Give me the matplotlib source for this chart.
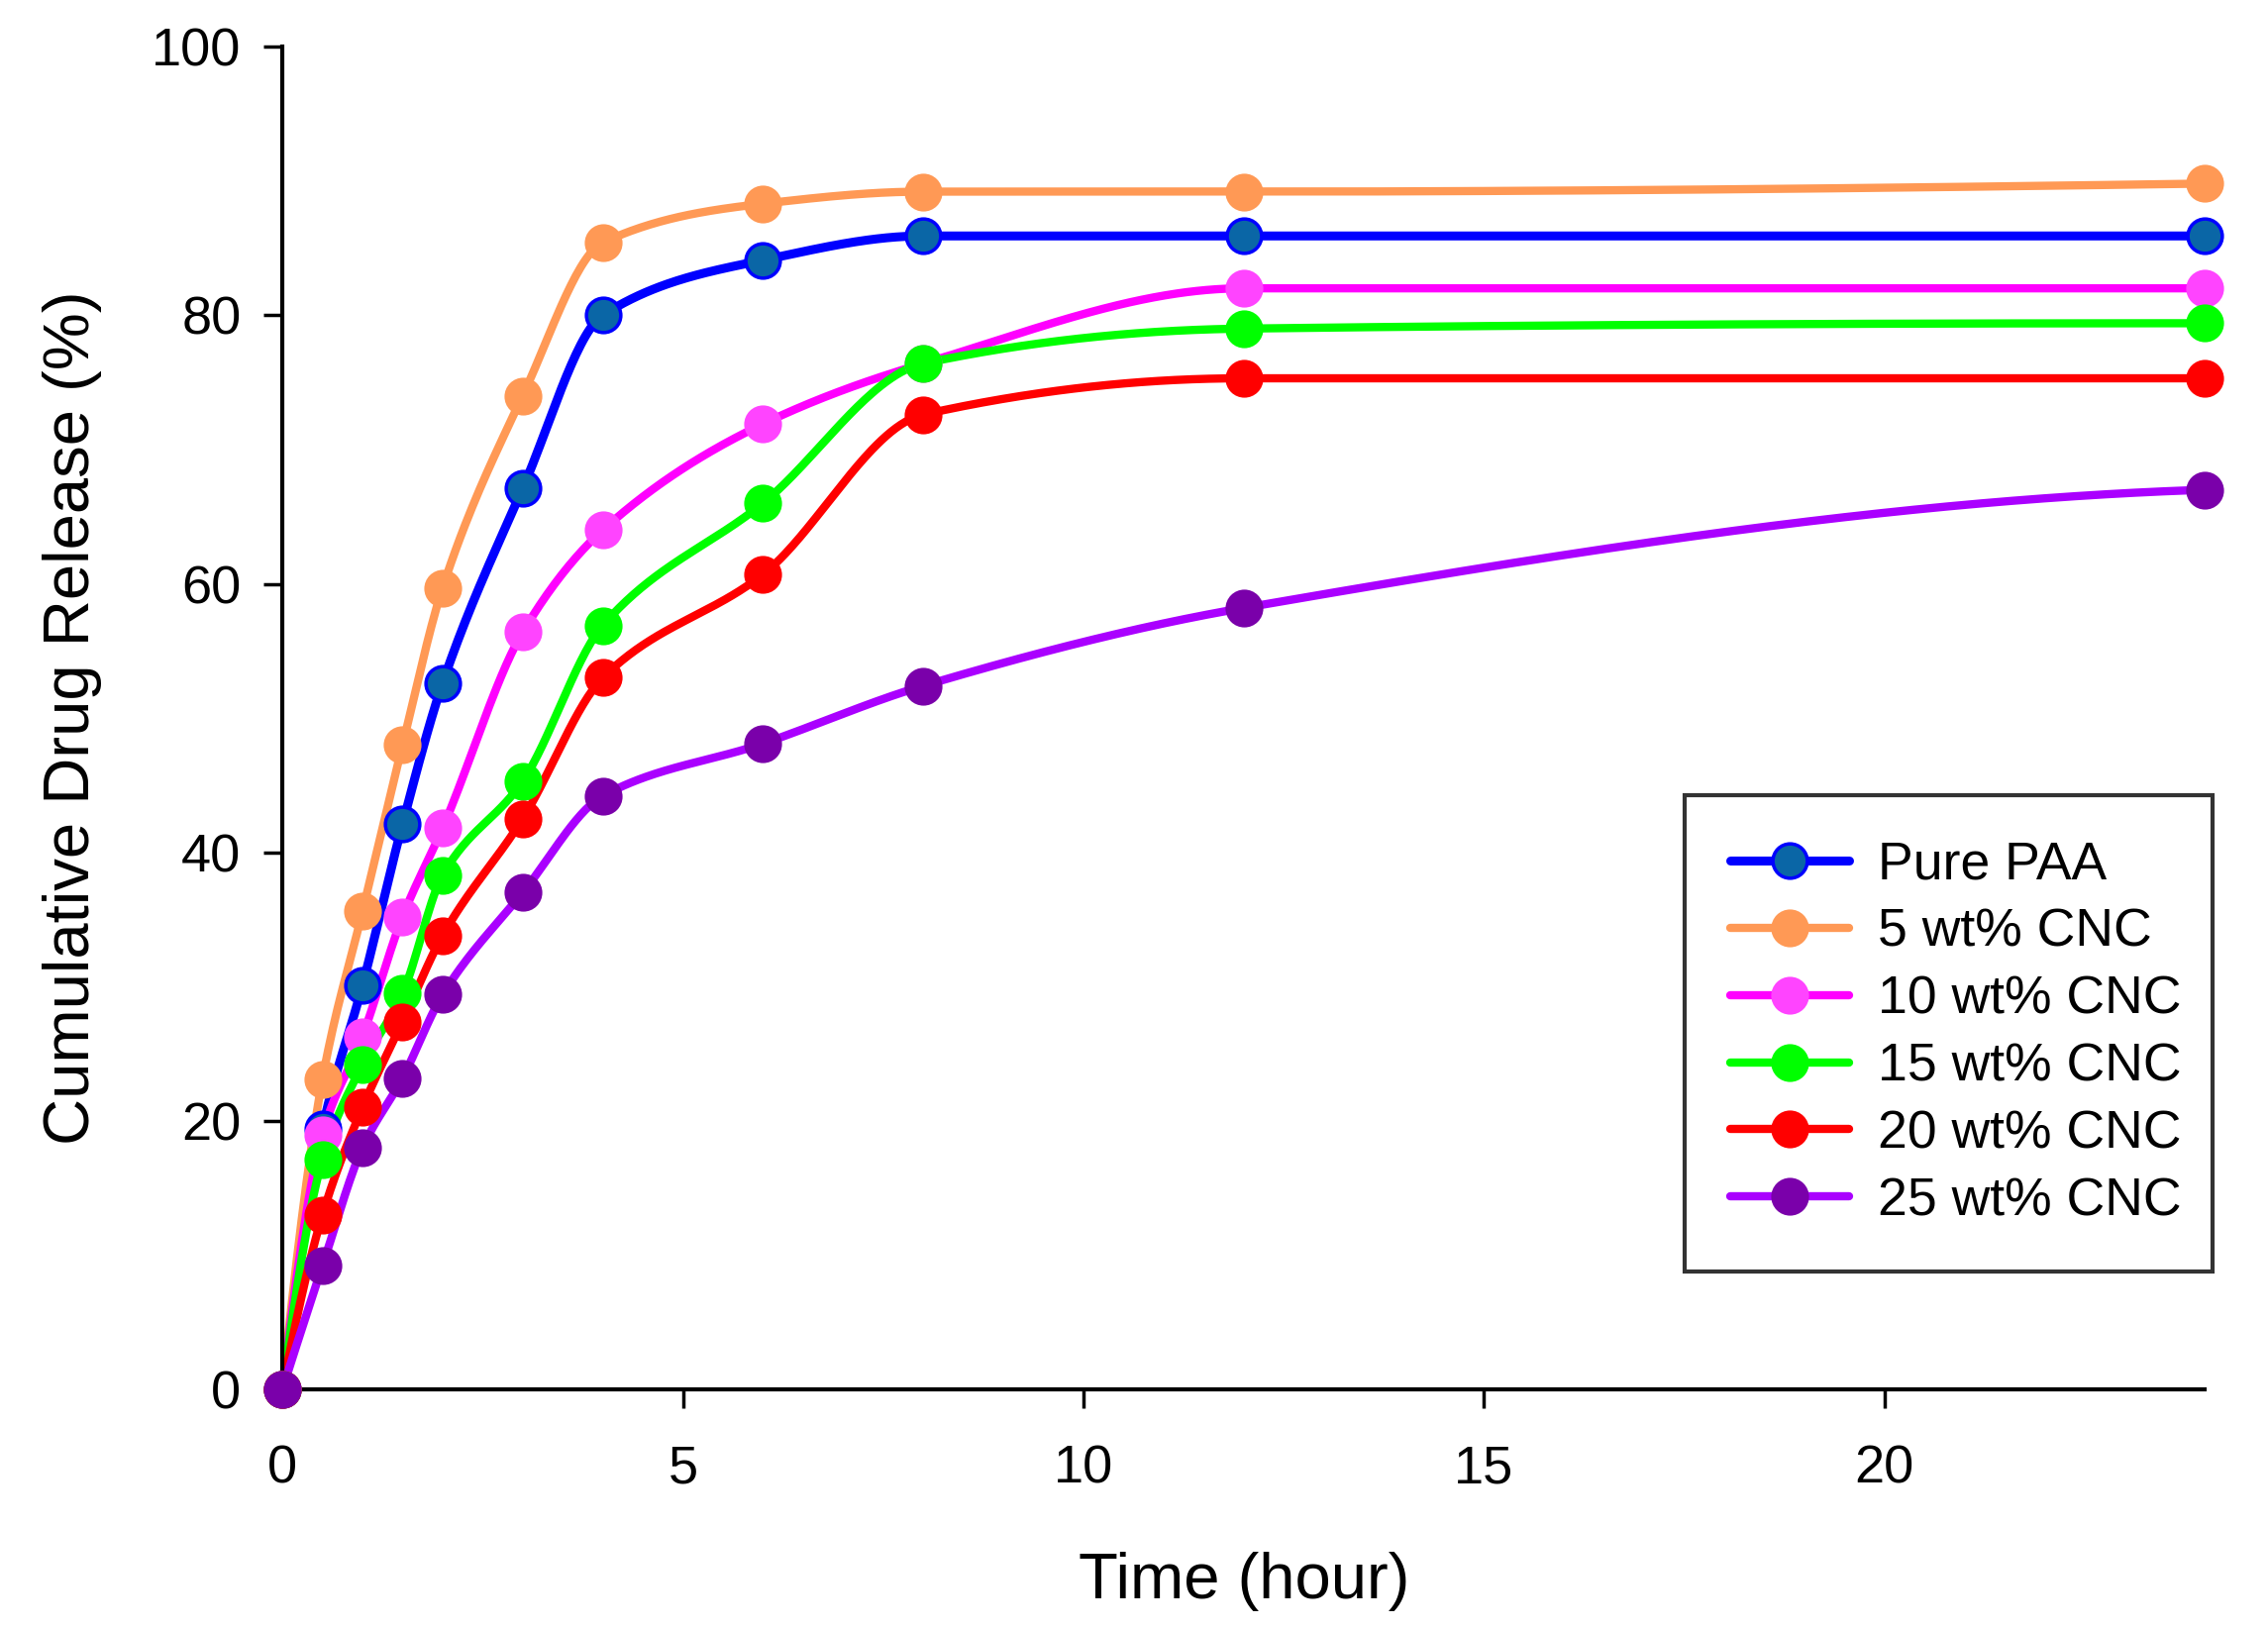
import numpy as np
import matplotlib
matplotlib.use('Agg')
import matplotlib.pyplot as plt

# Sampling times (hour)
time_h = [0, 0.5, 1, 1.5, 2, 3, 4, 6, 8, 12, 24]

# Cumulative drug release (%)
pure_paa = [0, 19.4, 30.1, 42.1, 52.6, 67.1, 80.0, 84.1, 85.9, 85.9, 85.9]
cnc_5 = [0, 23.1, 35.6, 48.0, 59.7, 74.0, 85.4, 88.3, 89.2, 89.2, 89.8]
cnc_10 = [0, 19.0, 26.3, 35.2, 41.8, 56.4, 64.0, 71.9, 76.4, 82.0, 82.0]
cnc_15 = [0, 17.1, 24.2, 29.5, 38.3, 45.3, 56.9, 66.0, 76.4, 79.0, 79.4]
cnc_20 = [0, 13.0, 21.0, 27.4, 33.8, 42.5, 53.0, 60.7, 72.6, 75.3, 75.3]
cnc_25 = [0, 9.2, 18.0, 23.2, 29.4, 37.0, 44.2, 48.1, 52.4, 58.2, 67.0]

labels = ['Pure PAA', '5 wt% CNC', '10 wt% CNC', '15 wt% CNC', '20 wt% CNC', '25 wt% CNC']
series = [pure_paa, cnc_5, cnc_10, cnc_15, cnc_20, cnc_25]
line_colors = ['#0000ff', '#ff9955', '#ff00ff', '#00ff00', '#ff0000', '#aa00ff']
face_colors = ['#0a66a6', '#ff9955', '#ff44ff', '#00ff00', '#ff0000', '#7a00aa']
edge_colors = ['#0000ff', '#ff9955', '#ff44ff', '#00ff00', '#ff0000', '#7a00aa']


def pchip_curve(x, y, n=800):
    """Shape-preserving cubic (PCHIP) through the points, only for drawing the smooth line."""
    x = np.asarray(x, float)
    y = np.asarray(y, float)
    h = np.diff(x)
    d = np.diff(y) / h
    k = len(x)
    m = np.zeros(k)
    for i in range(1, k - 1):
        if d[i - 1] * d[i] > 0:
            w1 = 2 * h[i] + h[i - 1]
            w2 = h[i] + 2 * h[i - 1]
            m[i] = (w1 + w2) / (w1 / d[i - 1] + w2 / d[i])
        else:
            m[i] = 0.0

    def end_slope(h0, h1, d0, d1):
        s = ((2 * h0 + h1) * d0 - h0 * d1) / (h0 + h1)
        if np.sign(s) != np.sign(d0):
            s = 0.0
        elif np.sign(d0) != np.sign(d1) and abs(s) > abs(3 * d0):
            s = 3 * d0
        return s

    m[0] = end_slope(h[0], h[1], d[0], d[1])
    m[-1] = end_slope(h[-1], h[-2], d[-1], d[-2])

    xs = np.linspace(x[0], x[-1], n)
    idx = np.clip(np.searchsorted(x, xs) - 1, 0, k - 2)
    hh = h[idx]
    t = (xs - x[idx]) / hh
    h00 = 2 * t ** 3 - 3 * t ** 2 + 1
    h10 = t ** 3 - 2 * t ** 2 + t
    h01 = -2 * t ** 3 + 3 * t ** 2
    h11 = t ** 3 - t ** 2
    ys = h00 * y[idx] + h10 * hh * m[idx] + h01 * y[idx + 1] + h11 * hh * m[idx + 1]
    return xs, ys


plt.rcParams['font.family'] = ['Liberation Sans', 'DejaVu Sans']

fig = plt.figure(figsize=(22.9, 16.45), dpi=100)
ax = fig.add_axes([0.1245, 0.147, 0.8477, 0.8244])

for vals, lab, lc, fc, ec in zip(series, labels, line_colors, face_colors, edge_colors):
    xs, ys = pchip_curve(time_h, vals)
    lw = 6.5 if lab == 'Pure PAA' else 6
    ax.plot(xs, ys, color=lc, lw=lw, clip_on=False, zorder=2,
            solid_capstyle='round')
    ax.plot(time_h, vals, linestyle='none', marker='o', markersize=25,
            markerfacecolor=fc, markeredgecolor=ec, markeredgewidth=2.5,
            clip_on=False, zorder=3)
    # legend proxy
    ax.plot([], [], color=lc, lw=lw, marker='o', markersize=25,
            markerfacecolor=fc, markeredgecolor=ec, markeredgewidth=2.5,
            solid_capstyle='round', label=lab)

ax.set_xlim(0, 24)
ax.set_ylim(0, 100)
ax.set_xticks([0, 5, 10, 15, 20])
ax.set_yticks([0, 20, 40, 60, 80, 100])

ax.spines['top'].set_visible(False)
ax.spines['right'].set_visible(False)
ax.spines['left'].set_linewidth(3)
ax.spines['bottom'].set_linewidth(3)
ax.tick_params(direction='out', length=14, width=2.5, labelsize=39)
ax.tick_params(axis='x', pad=26)
ax.tick_params(axis='y', pad=16)

ax.set_xlabel('Time (hour)', fontsize=47, labelpad=42)
ax.set_ylabel('Cumulative Drug Release (%)', fontsize=47, labelpad=36)

leg = ax.legend(loc='upper left', bbox_to_anchor=(0.7295, 0.092, 0.2745, 0.3505),
                mode='expand', fontsize=38.5, frameon=True, fancybox=False,
                handlelength=2.25, handletextpad=0.55, labelspacing=0.335,
                borderpad=0.85, borderaxespad=0)
leg.get_frame().set_edgecolor('black')
leg.get_frame().set_linewidth(3)

fig.savefig('out.png', dpi=100)
